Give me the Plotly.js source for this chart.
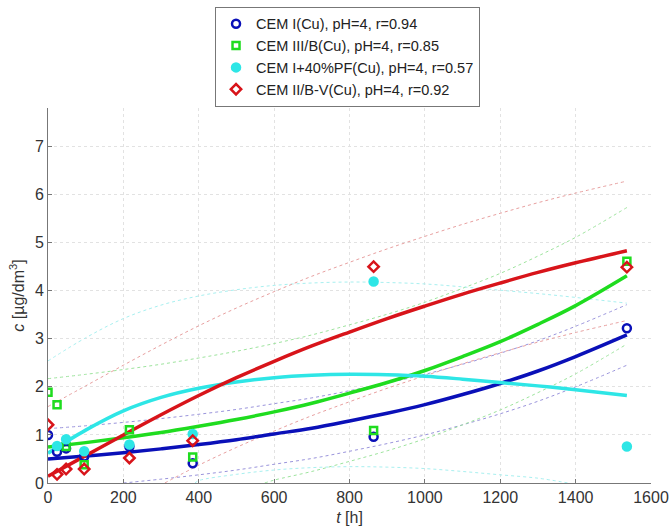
<!DOCTYPE html>
<html>
<head>
<meta charset="utf-8">
<script src="https://cdn.plot.ly/plotly-3.0.1.min.js"></script>
<style>html,body{margin:0;padding:0;background:#fff;}#chart{width:671px;height:526px;}</style>
</head>
<body>
<div id="chart"></div>
<script>
// measurement times [h]
const tBlue  = [0, 24, 48, 96, 216, 384, 864, 1536];
const tGreen = [0, 24, 48, 96, 216, 384, 864, 1536];
const tCyan  = [24, 48, 96, 216, 384, 864, 1536];
const tRed   = [0, 24, 48, 96, 216, 384, 864, 1536];
// measured concentrations [µg/dm3]
const cBlue  = [1.00, 0.65, 0.72, 0.55, 0.76, 0.41, 0.96, 3.22];
const cGreen = [1.89, 1.63, 0.76, 0.38, 1.11, 0.54, 1.09, 4.61];
const cCyan  = [0.77, 0.91, 0.66, 0.80, 1.02, 4.19, 0.76];
const cRed   = [1.21, 0.18, 0.29, 0.29, 0.52, 0.88, 4.50, 4.49];

// fitted curves
const tFit = [0,100,200,300,400,500,600,700,800,900,1000,1100,1200,1300,1400,1536];
const fitBlue  = [0.50,0.56,0.63,0.71,0.80,0.90,1.02,1.14,1.29,1.45,1.63,1.84,2.07,2.33,2.63,3.08];
const upBlue   = [1.13,1.19,1.26,1.34,1.43,1.53,1.65,1.77,1.92,2.08,2.26,2.47,2.70,2.96,3.26,3.71];
const fitGreen = [0.75,0.84,0.94,1.05,1.18,1.32,1.48,1.66,1.87,2.09,2.34,2.63,2.94,3.30,3.69,4.31];
const upGreen  = [2.17,2.26,2.36,2.47,2.60,2.74,2.90,3.08,3.29,3.51,3.76,4.05,4.36,4.72,5.11,5.73];
const fitCyan  = [0.62,1.10,1.50,1.78,1.97,2.10,2.19,2.24,2.26,2.25,2.22,2.16,2.09,2.02,1.94,1.82];
const upCyan   = [2.54,3.02,3.42,3.70,3.89,4.02,4.11,4.16,4.18,4.17,4.14,4.08,4.01,3.94,3.86,3.74];
const fitRed   = [0.14,0.57,1.00,1.42,1.82,2.19,2.53,2.85,3.14,3.42,3.68,3.93,4.16,4.38,4.58,4.83];
const upRed    = [1.59,2.02,2.45,2.87,3.27,3.64,3.98,4.30,4.59,4.87,5.13,5.38,5.61,5.83,6.03,6.28];

// lower confidence curves (visible part above zero)
const tLoBlue  = [200,300,400,500,600,700,800,900,1000,1100,1200,1300,1400,1536];
const loBlue   = [0.00,0.08,0.17,0.27,0.39,0.51,0.66,0.82,1.00,1.21,1.44,1.70,2.00,2.45];
const tLoGreen = [575,600,700,800,900,1000,1100,1200,1300,1400,1536];
const loGreen  = [0.00,0.06,0.24,0.45,0.67,0.92,1.21,1.52,1.88,2.27,2.89];
const tLoCyan  = [390,400,500,600,700,800,900,1000,1100,1200,1300,1380];
const loCyan   = [0.00,0.05,0.18,0.27,0.32,0.34,0.33,0.30,0.24,0.17,0.10,0.00];
const tLoRed   = [310,400,500,600,700,800,900,1000,1100,1200,1300,1400,1536];
const loRed    = [0.00,0.37,0.74,1.08,1.40,1.69,1.97,2.23,2.48,2.71,2.93,3.13,3.38];

const names = ['CEM I(Cu), pH=4, r=0.94','CEM III/B(Cu), pH=4, r=0.85','CEM I+40%PF(Cu), pH=4, r=0.57','CEM II/B-V(Cu), pH=4, r=0.92'];

const cBlueC='#0a10b8', cGreenC='#1fdc1f', cCyanC='#2ee6e6', cRedC='#d8141a';
const bBlue='#9a94dc', bGreen='#9ee49e', bCyan='#a8f0f0', bRed='#e8a0a0';

function band(x,y,col){return {x:x,y:y,mode:'lines',type:'scatter',showlegend:false,hoverinfo:'skip',line:{color:col,width:1,dash:'dot',shape:'spline'}};}
function fit(x,y,col){return {x:x,y:y,mode:'lines',type:'scatter',showlegend:false,hoverinfo:'skip',line:{color:col,width:3.5,shape:'spline'}};}
function pts(x,y,col,sym,size,name){return {x:x,y:y,mode:'markers',type:'scatter',name:name,marker:{symbol:sym,size:size,color:col,line:{color:col,width:2.5}}};}

const data = [
  band(tFit,upBlue,bBlue), band(tLoBlue,loBlue,bBlue),
  band(tFit,upGreen,bGreen), band(tLoGreen,loGreen,bGreen),
  band(tFit,upCyan,bCyan), band(tLoCyan,loCyan,bCyan),
  band(tFit,upRed,bRed), band(tLoRed,loRed,bRed),
  fit(tFit,fitBlue,cBlueC), fit(tFit,fitGreen,cGreenC), fit(tFit,fitCyan,cCyanC), fit(tFit,fitRed,cRedC),
  pts(tBlue,cBlue,cBlueC,'circle-open',8,names[0]),
  pts(tGreen,cGreen,cGreenC,'square-open',7,names[1]),
  pts(tCyan,cCyan,cCyanC,'circle',8,names[2]),
  pts(tRed,cRed,cRedC,'diamond-open',8,names[3])
];

const font = {family:'Liberation Sans, Arial, sans-serif', size:16, color:'#333'};
const layout = {
  width:671, height:526,
  margin:{l:48, r:20, t:108, b:43, autoexpand:false},
  paper_bgcolor:'#fff', plot_bgcolor:'#fff',
  font: font,
  showlegend:true,
  legend:{x:0.277, xanchor:'left', y:1.27, yanchor:'top', bgcolor:'rgba(255,255,255,0)', bordercolor:'#777', borderwidth:1,
          font:{family:'Liberation Sans, Arial, sans-serif', size:14.5, color:'#222'}, tracegroupgap:0},
  xaxis:{range:[0,1600], tickvals:[0,200,400,600,800,1000,1200,1400,1600], showgrid:true, gridcolor:'#e2e2e2', griddash:'dot', gridwidth:1,
         showline:true, linecolor:'#777', linewidth:1, ticks:'inside', ticklen:4, tickcolor:'#777', zeroline:false,
         title:{text:'<i>t</i> [h]', font:font, standoff:6}, tickfont:font},
  yaxis:{range:[0,7.8], tickvals:[0,1,2,3,4,5,6,7], showgrid:true, gridcolor:'#e2e2e2', griddash:'dot', gridwidth:1,
         showline:true, linecolor:'#777', linewidth:1, ticks:'inside', ticklen:4, tickcolor:'#777', zeroline:false,
         title:{text:'<i>c</i> [µg/dm<sup>3</sup>]', font:font, standoff:6}, tickfont:font}
};
Plotly.newPlot('chart', data, layout, {displayModeBar:false, staticPlot:true});
</script>
</body>
</html>
